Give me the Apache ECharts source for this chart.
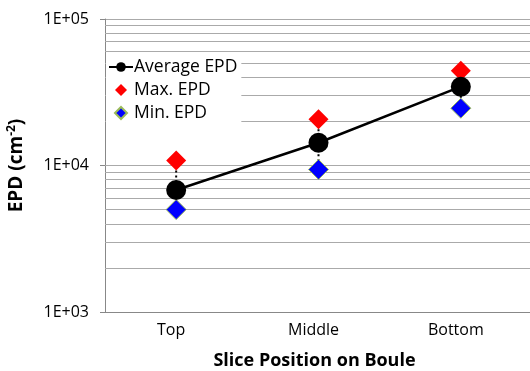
<!DOCTYPE html>
<html><head><meta charset="utf-8">
<script src="https://cdn.jsdelivr.net/npm/echarts@6/dist/echarts.min.js"></script>
<style>html,body{margin:0;padding:0;background:#fff}#c{width:530px;height:371px}</style>
</head><body><div id="c"></div>
<script>
var categories = ['Top', 'Middle', 'Bottom'];
var avgEPD = [6800, 14300, 34500];
var maxEPD = [10800, 20700, 44400];
var minEPD = [5000, 9400, 24600];
var gridValues = [2000,3000,4000,5000,6000,7000,8000,9000,10000,20000,30000,40000,50000,60000,70000,80000,90000];

var font = '"Open Sans", sans-serif';
var diamondIcon = 'path://M0,5L5,0L10,5L5,10Z';
var chart = echarts.init(document.getElementById('c'));
chart.setOption({
  animation: false,
  grid: {left: 105, right: -2, top: 19, bottom: 59, outerBoundsMode: 'none', containLabel: false},
  legend: {
    orient: 'vertical', left: 106, top: 54, itemGap: 3, z: 10,
    backgroundColor: '#fff', padding: [3, 4, 1, 2],
    itemWidth: 24, itemHeight: 12,
    textStyle: {fontFamily: font, fontSize: 17.5, color: '#000', lineHeight: 20, padding: [0,0,0,-4]},
    data: [
      {name: 'Average EPD'},
      {name: 'Max. EPD', icon: diamondIcon},
      {name: 'Min. EPD', icon: diamondIcon}
    ]
  },
  xAxis: {
    type: 'category', data: categories, boundaryGap: true,
    axisLine: {lineStyle: {color: '#888', width: 1}},
    axisTick: {show: false},
    axisLabel: {fontFamily: font, fontSize: 16, color: '#000', margin: 10, padding: [0, 10, 0, 0]},
    name: 'Slice Position on Boule', nameLocation: 'middle', nameGap: 40,
    nameTextStyle: {fontFamily: font, fontSize: 18, fontWeight: 'bold', color: '#000', padding: [0, 8, 0, 0]}
  },
  yAxis: {
    type: 'log', logBase: 10, min: 1000, max: 100000,
    axisLine: {show: true, lineStyle: {color: '#888'}},
    axisTick: {show: true, length: 5, lineStyle: {color: '#888'}},
    splitLine: {show: true, lineStyle: {color: '#aaa'}},
    axisLabel: {fontFamily: font, fontSize: 16, color: '#000', margin: 16,
      formatter: function(v){ return '1E+0' + Math.round(Math.log10(v)); }},
    name: '{a|EPD (cm}{s|-2}{a|)}', nameLocation: 'middle', nameGap: 78, nameRotate: 90,
    nameTextStyle: {
      rich: {
        a: {fontFamily: font, fontSize: 19, fontWeight: 'bold', color: '#000'},
        s: {fontFamily: font, fontSize: 12, fontWeight: 'bold', color: '#000', verticalAlign: 'top', padding: [0,0,9,0]}
      }
    }
  },
  series: [
    {
      type: 'line', name: '_grid', data: [], silent: true, z: 1,
      markLine: {silent: true, symbol: 'none', label: {show: false}, z: 1,
        lineStyle: {color: '#aaa', type: 'solid', width: 1},
        data: gridValues.map(function(v){ return {yAxis: v}; })}
    },
    {
      type: 'custom', name: '_err', silent: true, z: 2,
      data: categories.map(function(c, i){ return [i, maxEPD[i], minEPD[i]]; }),
      renderItem: function(params, api){
        var p1 = api.coord([api.value(0), api.value(1)]);
        var p2 = api.coord([api.value(0), api.value(2)]);
        return {type: 'line', shape: {x1: p1[0], y1: p1[1], x2: p2[0], y2: p2[1]},
          style: {stroke: '#000', lineWidth: 2, lineDash: [2, 3]}};
      }
    },
    {
      type: 'scatter', name: 'Max. EPD', data: maxEPD, symbol: 'diamond', symbolSize: [20, 20], z: 3,
      itemStyle: {color: '#ff0000', opacity: 1, borderWidth: 0}
    },
    {
      type: 'scatter', name: 'Min. EPD', data: minEPD, symbol: 'diamond', symbolSize: [20, 20], z: 3,
      itemStyle: {color: '#0000ff', opacity: 1, borderColor: '#9bbb59', borderWidth: 1}
    },
    {
      type: 'line', name: 'Average EPD', data: avgEPD, symbol: 'circle', symbolSize: 20, z: 4,
      lineStyle: {color: '#000', width: 2.5}, itemStyle: {color: '#000'}
    }
  ]
});
</script></body></html>
